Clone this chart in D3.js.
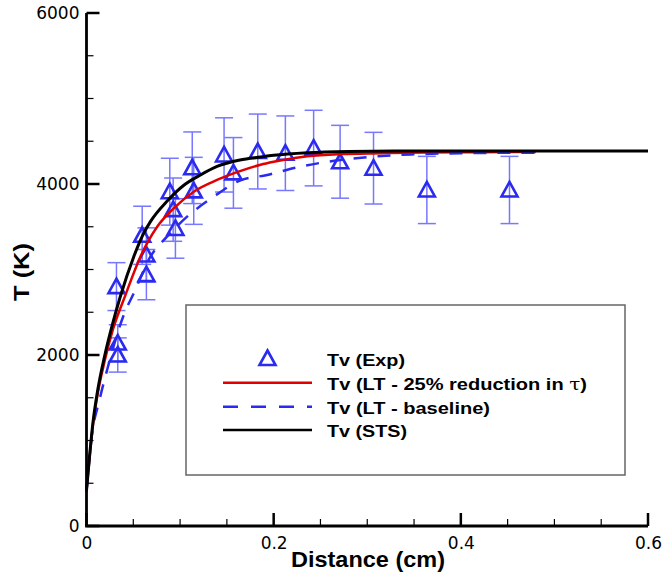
<!DOCTYPE html>
<html>
<head>
<meta charset="utf-8">
<script src="https://cdn.jsdelivr.net/npm/d3@7"></script>
<style>
html,body{margin:0;padding:0;background:#fff;}
svg{display:block;}
</style>
</head>
<body>
<svg id="chart" width="662" height="578"></svg>
<script>
// ---- data ----
const xTicks = [0, 0.2, 0.4, 0.6];
const xTickLabels = ["0", "0.2", "0.4", "0.6"];
const yTicks = [0, 2000, 4000, 6000];
const yTickLabels = ["0", "2000", "4000", "6000"];

const expX = [0.032,0.0334,0.0334,0.0595,0.064,0.064,0.089,0.0926,0.095,0.113,0.1146,0.147,0.157,0.183,0.2125,0.2427,0.271,0.3067,0.3637,0.452];
const expT = [2800,2140,2000,3400,3170,2940,3910,3700,3480,4190,3920,4340,4130,4380,4360,4420,4260,4185,3930,3930];
const expErr = [280,214,200,340,317,294,391,370,348,419,392,434,413,438,436,442,426,419,393,393];

const stsX = [0,0.0032,0.0068,0.012,0.0192,0.028,0.0363,0.0505,0.06,0.0683,0.0862,0.104,0.1217,0.1395,0.164,0.186,0.2,0.236,0.28,0.33,0.4,0.5,0.6];
const stsT = [420,810,1200,1590,1980,2370,2690,3150,3400,3560,3800,3985,4105,4205,4280,4315,4335,4365,4380,4385,4385,4385,4385];

const redX = [0,0.0032,0.0068,0.012,0.0192,0.028,0.0416,0.0576,0.0755,0.0932,0.1146,0.1395,0.164,0.186,0.2,0.236,0.271,0.314,0.36,0.42,0.48];
const redT = [420,790,1170,1550,1920,2290,2700,3150,3500,3716,3910,4047,4150,4225,4260,4325,4350,4360,4368,4372,4375];

const blX = [0,0.005,0.0139,0.022,0.0406,0.0505,0.0683,0.086,0.1075,0.136,0.164,0.193,0.225,0.254,0.288,0.32,0.35,0.4,0.48];
const blT = [400,1000,1474,1825,2491,2722,3150,3384,3618,3852,4040,4105,4195,4254,4300,4331,4347,4360,4366];

const legendLabels = ["Tv (Exp)", "Tv (LT - 25% reduction in ", "Tv (LT - baseline)", "Tv (STS)"];

// ---- drawing ----
const svg = d3.select("#chart");
const x = d3.scaleLinear().domain([0, 0.6]).range([86.5, 648]);
const y = d3.scaleLinear().domain([0, 6000]).range([526, 13]);

const triBlue = "#2a2af0";
const errBlue = "#7777ff";

// error bars
const eb = svg.append("g");
expX.forEach((xv, i) => {
  const cx = x(xv), y1 = y(expT[i] + expErr[i]), y2 = y(expT[i] - expErr[i]);
  eb.append("line").attr("x1", cx).attr("x2", cx).attr("y1", y1).attr("y2", y2)
    .attr("stroke", errBlue).attr("stroke-width", 1.5);
  [y1, y2].forEach(yy => eb.append("line").attr("x1", cx - 9).attr("x2", cx + 9)
    .attr("y1", yy).attr("y2", yy).attr("stroke", errBlue).attr("stroke-width", 1.5));
});

function tri(g, cx, cy) {
  g.append("path")
    .attr("d", `M${cx},${cy - 8}L${cx + 8},${cy + 6.5}L${cx - 8},${cy + 6.5}Z`)
    .attr("fill", "none").attr("stroke", triBlue).attr("stroke-width", 2.6)
    .attr("stroke-linejoin", "miter");
}
const tg = svg.append("g");
expX.forEach((xv, i) => tri(tg, x(xv), y(expT[i])));

const line = d3.line().x(d => x(d[0])).y(d => y(d[1])).curve(d3.curveMonotoneX);
svg.append("path").datum(redX.map((v, i) => [v, redT[i]])).attr("d", line)
  .attr("fill", "none").attr("stroke", "#e00000").attr("stroke-width", 2.5);
svg.append("path").datum(blX.map((v, i) => [v, blT[i]])).attr("d", line)
  .attr("fill", "none").attr("stroke", triBlue).attr("stroke-width", 2.5)
  .attr("stroke-dasharray", "13,11");
svg.append("path").datum(stsX.map((v, i) => [v, stsT[i]])).attr("d", line)
  .attr("fill", "none").attr("stroke", "#000").attr("stroke-width", 3);

// axes
const xMinor = d3.range(0, 0.6001, 0.05);
const yMinor = d3.range(0, 6001, 500);
const ax = svg.append("g");
xMinor.forEach(v => {
  const major = xTicks.some(t => Math.abs(t - v) < 1e-6);
  ax.append("line").attr("x1", x(v)).attr("x2", x(v)).attr("y1", 526).attr("y2", 526 - (major ? 13 : 7))
    .attr("stroke", "#000").attr("stroke-width", major ? 2.5 : 1.2);
});
yMinor.forEach(v => {
  const major = yTicks.includes(v);
  ax.append("line").attr("x1", 86.5).attr("x2", 86.5 + (major ? 13 : 7)).attr("y1", y(v)).attr("y2", y(v))
    .attr("stroke", "#000").attr("stroke-width", major ? 2.5 : 1.2);
});
ax.append("path").attr("d", `M86.5,${y(6000)}V526H648`).attr("fill", "none")
  .attr("stroke", "#000").attr("stroke-width", 2.8);

const xAxis = d3.axisBottom(x).tickValues(xTicks).tickFormat((d, i) => xTickLabels[i]).tickSize(0).tickPadding(5);
const gx = svg.append("g").attr("transform", "translate(0,526)").call(xAxis);
gx.select(".domain").remove();
gx.selectAll("text").attr("font-family", "DejaVu Sans, sans-serif").attr("font-size", 17).attr("fill", "#000")
  .attr("dy", "1.05em");

const yAxis = d3.axisLeft(y).tickValues(yTicks).tickFormat((d, i) => yTickLabels[i]).tickSize(0).tickPadding(7);
const gy = svg.append("g").attr("transform", "translate(86.5,0)").call(yAxis);
gy.select(".domain").remove();
gy.selectAll("text").attr("font-family", "DejaVu Sans, sans-serif").attr("font-size", 17).attr("fill", "#000");

svg.append("text").attr("x", 368).attr("y", 567).attr("text-anchor", "middle")
  .attr("font-family", "Liberation Sans, Arial, sans-serif").attr("font-weight", "bold").attr("font-size", 22)
  .attr("textLength", 154).attr("lengthAdjust", "spacingAndGlyphs").text("Distance (cm)");
svg.append("text").attr("transform", "translate(28.5,272) rotate(-90)").attr("text-anchor", "middle")
  .attr("font-family", "Liberation Sans, Arial, sans-serif").attr("font-weight", "bold").attr("font-size", 22)
  .attr("textLength", 58).attr("lengthAdjust", "spacingAndGlyphs").text("T (K)");

// legend
const lg = svg.append("g");
lg.append("rect").attr("x", 186).attr("y", 305).attr("width", 439).attr("height", 170)
  .attr("fill", "#fff").attr("stroke", "#666").attr("stroke-width", 1.5);
tri(lg, 267.5, 358.5);
lg.append("line").attr("x1", 223).attr("x2", 312).attr("y1", 382.7).attr("y2", 382.7).attr("stroke", "#e00000").attr("stroke-width", 2.5);
lg.append("line").attr("x1", 223).attr("x2", 312).attr("y1", 406.7).attr("y2", 406.7).attr("stroke", triBlue).attr("stroke-width", 2.5).attr("stroke-dasharray", "15,13");
lg.append("line").attr("x1", 223).attr("x2", 312).attr("y1", 430).attr("y2", 430).attr("stroke", "#000").attr("stroke-width", 2.5);
const lBase = [366, 389.5, 413.5, 437];
const lLen = [78, 260, 163, 80];
legendLabels.forEach((t, i) => {
  const tx = lg.append("text").attr("x", 327).attr("y", lBase[i])
    .attr("font-family", "Liberation Sans, Arial, sans-serif").attr("font-weight", "bold").attr("font-size", 17)
    .attr("textLength", lLen[i]).attr("lengthAdjust", "spacingAndGlyphs");
  if (i === 1) {
    tx.append("tspan").text(t);
    tx.append("tspan").attr("font-weight", "normal").attr("font-family", "DejaVu Serif, serif").text("\u03c4");
    tx.append("tspan").text(")");
  } else {
    tx.text(t);
  }
});
</script>
</body>
</html>
